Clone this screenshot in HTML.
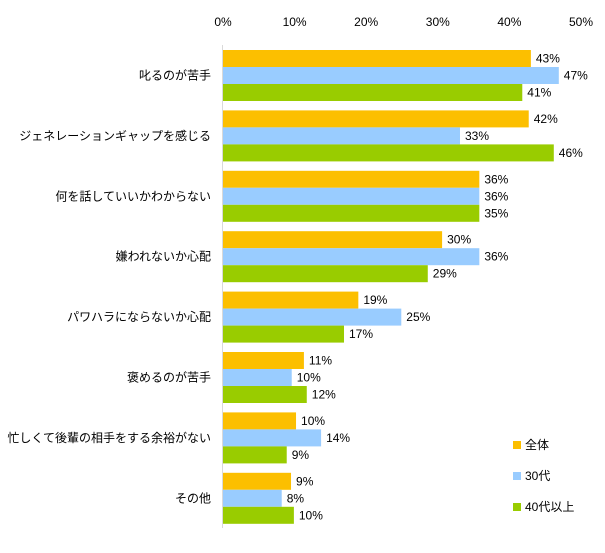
<!DOCTYPE html>
<html><head><meta charset="utf-8"><style>
body{margin:0;background:#fff;font-family:"Liberation Sans","Noto Sans CJK JP",sans-serif;}
svg text{font-family:"Liberation Sans","Noto Sans CJK JP",sans-serif;font-size:12px;fill:#000;}
</style></head><body>
<svg id="chart" width="605" height="548"></svg>
<script>
const categories=["叱るのが苦手","ジェネレーションギャップを感じる","何を話していいかわからない","嫌われないか心配","パワハラにならないか心配","褒めるのが苦手","忙しくて後輩の相手をする余裕がない","その他"];
const seriesNames=["全体","30代","40代以上"];
const seriesColors=["#fcbf00","#99ccff","#99cc00"];
const valAll=[43.0,42.7,35.8,30.6,18.9,11.3,10.2,9.5];
const val30=[46.9,33.1,35.8,35.8,24.9,9.6,13.7,8.2];
const val40=[41.8,46.2,35.8,28.6,16.9,11.7,8.9,9.9];
const labelAll=[43,42,36,30,19,11,10,9];
const label30=[47,33,36,36,25,10,14,8];
const label40=[41,46,35,29,17,12,9,10];
const tickValues=[0,10,20,30,40,50];
const ns="http://www.w3.org/2000/svg";
const svg=document.getElementById('chart');
const x0=223,pxPer=7.16,top0=50,band=60.4,bh=17;
const xs=v=>x0+v*pxPer;
function mk(t,a){const e=document.createElementNS(ns,t);for(const k in a)e.setAttribute(k,a[k]);svg.appendChild(e);return e;}
tickValues.forEach(v=>{const t=mk('text',{x:xs(v),y:26,'text-anchor':'middle'});t.textContent=v+'%';

});
const ax=mk('line',{x1:x0-0.5,x2:x0-0.5,y1:45,y2:528,stroke:'#d9d9d9','stroke-width':1});


const series=[valAll,val30,val40];
const labels=[labelAll,label30,label40];
categories.forEach((c,i)=>{
 const gy=top0+i*band;
 const l=mk('text',{x:211,y:gy+bh*1.5+4,'text-anchor':'end'});l.textContent=c;
 
 
 series.forEach((s,j)=>{
  const y=gy+j*bh;
  const r=mk('rect',{x:x0,y:y,width:xs(s[i])-x0,height:bh,fill:seriesColors[j]});
  
  
  const t=mk('text',{x:xs(s[i])+5,y:y+bh/2+4});t.textContent=labels[j][i]+'%';
  
  
 });
});
seriesNames.forEach((n,j)=>{
 const y=441+j*31;
 const r=mk('rect',{x:513,y:y,width:8,height:8,fill:seriesColors[j]});
 
 
 const t=mk('text',{x:525,y:y+8});t.textContent=n;
 
 
});
</script>
</body></html>
